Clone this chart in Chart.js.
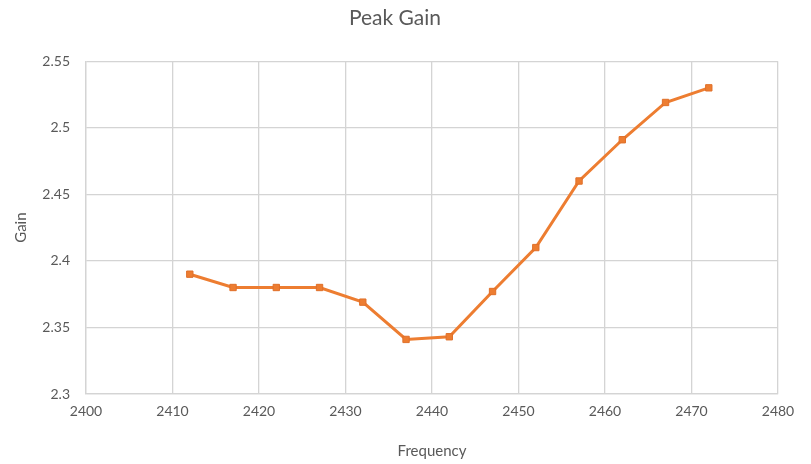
<!DOCTYPE html>
<html>
<head>
<meta charset="utf-8">
<script src="https://cdn.jsdelivr.net/npm/chart.js@4"></script>
<style>
  html, body { margin: 0; padding: 0; background: #fff; }
  #wrap { width: 811px; height: 464px; }
</style>
</head>
<body>
<div id="wrap"><canvas id="gainChart" width="811" height="464"></canvas></div>
<script>
// Data
const frequencies = [2412, 2417, 2422, 2427, 2432, 2437, 2442, 2447, 2452, 2457, 2462, 2467, 2472];
const gainValues = [2.39, 2.38, 2.38, 2.38, 2.369, 2.341, 2.343, 2.377, 2.41, 2.46, 2.491, 2.519, 2.53];

const textGrey = '#595959';
const gridGrey = '#d4d4d4';
const lineOrange = '#ED7D31';
const fontFamily = 'Lato, "Open Sans", sans-serif';

const points = frequencies.map((f, i) => ({ x: f, y: gainValues[i] }));

new Chart(document.getElementById('gainChart'), {
  type: 'line',
  data: {
    datasets: [{
      label: 'Gain',
      data: points,
      borderColor: lineOrange,
      backgroundColor: lineOrange,
      borderWidth: 3,
      pointStyle: 'rect',
      pointRadius: 4.5,
      pointBorderWidth: 1,
      pointBorderColor: '#E0702A',
      pointBackgroundColor: lineOrange,
      tension: 0,
    }],
  },
  options: {
    responsive: false,
    animation: false,
    // left padding pushes the "Gain" title in from the edge
    layout: { padding: { left: 12, right: 33, top: 0, bottom: 0 } },
    plugins: {
      legend: { display: false },
      tooltip: { enabled: false },
      title: {
        display: true,
        text: 'Peak Gain',
        color: textGrey,
        font: { family: fontFamily, size: 21, weight: 'normal' },
        padding: { top: 6, bottom: 30 },
      },
    },
    scales: {
      x: {
        type: 'linear',
        min: 2400,
        max: 2480,
        ticks: {
          stepSize: 10,
          color: textGrey,
          padding: 9,
          font: { family: fontFamily, size: 14 },
          callback: (v) => String(v),
        },
        grid: { color: gridGrey, drawTicks: false, lineWidth: 1.3 },
        border: { color: gridGrey, width: 1.3 },
        title: {
          display: true,
          text: 'Frequency',
          color: textGrey,
          font: { family: fontFamily, size: 15 },
          padding: { top: 7 },
        },
        afterFit: (scale) => { scale.height = 70; },
      },
      y: {
        min: 2.3,
        max: 2.55,
        ticks: {
          stepSize: 0.05,
          color: textGrey,
          padding: 16,
          font: { family: fontFamily, size: 14 },
          callback: (v) => String(Math.round(v * 100) / 100),
        },
        grid: { color: gridGrey, drawTicks: false, lineWidth: 1.3 },
        border: { color: gridGrey, width: 1.3 },
        title: {
          display: true,
          text: 'Gain',
          color: textGrey,
          font: { family: fontFamily, size: 15 },
          padding: { top: 0, bottom: 0 },
        },
        afterFit: (scale) => { scale.width = 74; },
      },
    },
  },
});
</script>
</body>
</html>
